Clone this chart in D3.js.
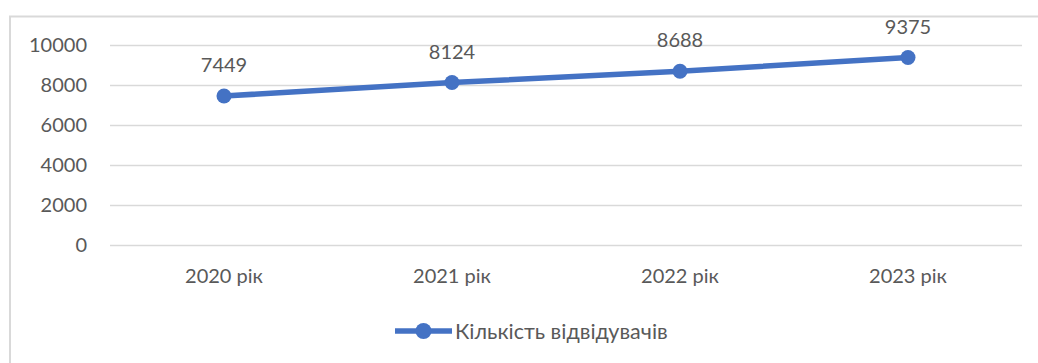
<!DOCTYPE html>
<html>
<head>
<meta charset="utf-8">
<script src="https://cdn.jsdelivr.net/npm/d3@7"></script>
<style>
  html, body { margin: 0; padding: 0; background: #fff; }
  svg { display: block; }
  text { font-family: Lato, "Open Sans", sans-serif; fill: #595959; }
</style>
</head>
<body>
<svg id="chart" width="1038" height="363"></svg>
<script>
// Visitor counts per year
const categories = ["2020 рік", "2021 рік", "2022 рік", "2023 рік"];
const visitors = [7449, 8124, 8688, 9375];
const yTicks = [0, 2000, 4000, 6000, 8000, 10000];
const seriesName = "Кількість відвідувачів";

const W = 1038, H = 363;
const plot = { left: 110, right: 1022, top: 45, bottom: 245 };
const lineColor = "#4472C4";
const gridColor = "#d9d9d9";

const svg = d3.select("#chart");

// Chart frame (left and top edges)
svg.append("path")
  .attr("d", `M10,${H} L10,16.5 L${W},16.5`)
  .attr("fill", "none")
  .attr("stroke", "#d9d9d9")
  .attr("stroke-width", 2);

const x = d3.scaleBand()
  .domain(categories)
  .range([plot.left, plot.right]);

const y = d3.scaleLinear()
  .domain([0, 10000])
  .range([plot.bottom, plot.top]);

// Horizontal gridlines with tick labels
const yAxis = d3.axisLeft(y)
  .tickValues(yTicks)
  .tickSize(-(plot.right - plot.left))
  .tickPadding(23)
  .tickFormat(d3.format("d"));

const gy = svg.append("g")
  .attr("transform", `translate(${plot.left},0)`)
  .call(yAxis);
gy.select(".domain").remove();
gy.selectAll(".tick line")
  .attr("stroke", gridColor)
  .attr("stroke-width", 1.5);
gy.selectAll(".tick text")
  .attr("fill", "#595959")
  .style("font-size", "20px");

// Category labels
const xAxis = d3.axisBottom(x).tickSize(0).tickPadding(24);
const gx = svg.append("g")
  .attr("transform", `translate(0,${plot.bottom})`)
  .call(xAxis);
gx.select(".domain").remove();
gx.selectAll(".tick text")
  .attr("fill", "#595959")
  .style("font-size", "20px");

const cx = d => x(d) + x.bandwidth() / 2;

// Series line
const line = d3.line()
  .x((d, i) => cx(categories[i]))
  .y(d => y(d));

svg.append("path")
  .datum(visitors)
  .attr("d", line)
  .attr("fill", "none")
  .attr("stroke", lineColor)
  .attr("stroke-width", 5.5)
  .attr("stroke-linejoin", "round");

// Markers
svg.selectAll("circle.pt")
  .data(visitors)
  .join("circle")
  .attr("class", "pt")
  .attr("cx", (d, i) => cx(categories[i]))
  .attr("cy", d => y(d))
  .attr("r", 7.5)
  .attr("fill", lineColor);

// Value labels
svg.selectAll("text.val")
  .data(visitors)
  .join("text")
  .attr("class", "val")
  .attr("x", (d, i) => cx(categories[i]))
  .attr("y", d => y(d) - 24)
  .attr("text-anchor", "middle")
  .style("font-size", "20px")
  .text(d => d);

// Legend
const legend = svg.append("g").attr("transform", "translate(395,331)");
legend.append("line")
  .attr("x1", 0).attr("x2", 57)
  .attr("y1", 0).attr("y2", 0)
  .attr("stroke", lineColor)
  .attr("stroke-width", 5.5);
legend.append("circle")
  .attr("cx", 28.5).attr("cy", 0).attr("r", 8)
  .attr("fill", lineColor);
legend.append("text")
  .attr("x", 60)
  .attr("y", 0)
  .attr("dy", "0.35em")
  .style("font-size", "21.5px")
  .text(seriesName);
</script>
</body>
</html>
